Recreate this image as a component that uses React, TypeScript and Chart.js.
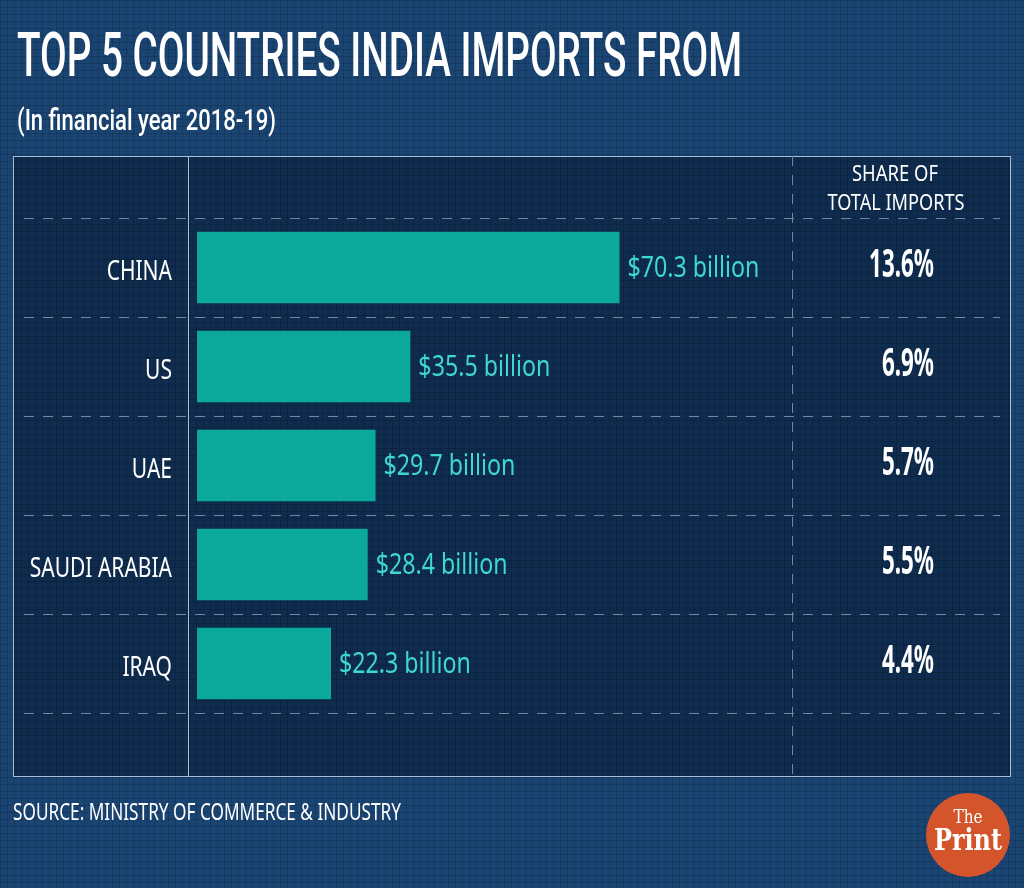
import React, { useEffect, useRef } from "react";
import { Chart, registerables } from "chart.js";

Chart.register(...registerables);

const countries = ["CHINA", "US", "UAE", "SAUDI ARABIA", "IRAQ"];
const importsBn = [70.3, 35.5, 29.7, 28.4, 22.3];
const sharePct = [13.6, 6.9, 5.7, 5.5, 4.4];

const TITLE = "TOP 5 COUNTRIES INDIA IMPORTS FROM";
const SUBTITLE = "(In financial year 2018-19)";
const SHARE_HEAD = ["SHARE OF", "TOTAL IMPORTS"];
const SOURCE = "SOURCE: MINISTRY OF COMMERCE & INDUSTRY";

const W = 1024;
const H = 888;

type Opt = { width?: number; sx?: number };

function txt(
  ctx: CanvasRenderingContext2D,
  text: string,
  x: number,
  y: number,
  font: string,
  color: string,
  align: CanvasTextAlign,
  opt: Opt = {}
) {
  ctx.save();
  ctx.font = font;
  const w = ctx.measureText(text).width;
  const sx = opt.width ? opt.width / w : opt.sx ?? 1;
  ctx.translate(x, y);
  ctx.scale(sx, 1);
  ctx.fillStyle = color;
  ctx.textAlign = align;
  ctx.textBaseline = "alphabetic";
  ctx.fillText(text, 0, 0);
  ctx.restore();
}

const BOX = { l: 13, t: 156, r: 1010, b: 776 };
const DIV1 = 188;
const DIV2 = 792;

const decor = {
  id: "decor",
  beforeDraw(chart: any) {
    const ctx: CanvasRenderingContext2D = chart.ctx;
    ctx.save();
    ctx.fillStyle = "#1a4573";
    ctx.fillRect(0, 0, W, H);
    ctx.fillStyle = "#0f2c4f";
    ctx.fillRect(BOX.l, BOX.t, BOX.r - BOX.l, BOX.b - BOX.t);
    // mosaic texture
    ctx.strokeStyle = "rgba(0,0,0,0.15)";
    ctx.lineWidth = 1;
    ctx.beginPath();
    for (let x = 0.5; x < W; x += 7) {
      ctx.moveTo(x, 0);
      ctx.lineTo(x, H);
    }
    for (let y = 0.5; y < H; y += 7) {
      ctx.moveTo(0, y);
      ctx.lineTo(W, y);
    }
    ctx.stroke();

    ctx.strokeStyle = "#a9bcd3";
    ctx.lineWidth = 1;
    ctx.strokeRect(BOX.l + 0.5, BOX.t + 0.5, BOX.r - BOX.l, BOX.b - BOX.t);
    ctx.beginPath();
    ctx.moveTo(DIV1 + 0.5, BOX.t);
    ctx.lineTo(DIV1 + 0.5, BOX.b);
    ctx.stroke();
    ctx.strokeStyle = "#6e88a8";
    ctx.setLineDash([10, 9]);
    ctx.beginPath();
    ctx.moveTo(DIV2 + 0.5, BOX.t);
    ctx.lineTo(DIV2 + 0.5, BOX.b);
    ctx.stroke();

    const ys = chart.scales.y;
    const n = countries.length;
    const half = (ys.getPixelForValue(1) - ys.getPixelForValue(0)) / 2;
    ctx.beginPath();
    for (let i = 0; i <= n; i++) {
      const y = Math.round(ys.getPixelForValue(Math.min(i, n - 1)) + (i < n ? -half : half)) + 0.5;
      ctx.moveTo(24, y);
      ctx.lineTo(1000, y);
    }
    ctx.stroke();
    ctx.setLineDash([]);
    ctx.restore();

    txt(ctx, TITLE, 17, 76, '500 62px Roboto', "#ffffff", "left", { width: 725 });
    txt(ctx, SUBTITLE, 17, 130, '500 29px Roboto', "#ffffff", "left", { width: 259 });
    txt(ctx, SHARE_HEAD[0], 895, 181, '22px "Noto Sans"', "#ffffff", "center", { width: 86 });
    txt(ctx, SHARE_HEAD[1], 896, 210, '22px "Noto Sans"', "#ffffff", "center", { width: 137 });
    txt(ctx, SOURCE, 13, 820, '24px "Noto Sans"', "#ffffff", "left", { width: 388 });

    ctx.save();
    ctx.fillStyle = "#d4552b";
    ctx.beginPath();
    ctx.arc(968, 835, 42, 0, Math.PI * 2);
    ctx.fill();
    ctx.restore();
    txt(ctx, "The", 968, 823, '18px "DejaVu Serif"', "#ffffff", "center", { sx: 0.85 });
    txt(ctx, "Print", 968, 850, 'bold 30px "DejaVu Serif"', "#ffffff", "center", { width: 68 });
  },
  afterDatasetsDraw(chart: any) {
    const ctx: CanvasRenderingContext2D = chart.ctx;
    const meta = chart.getDatasetMeta(0);
    meta.data.forEach((el: any, i: number) => {
      txt(ctx, countries[i], 172, el.y + 12, '28px "Noto Sans"', "#ffffff", "right", { sx: 0.75 });
      txt(ctx, `$${importsBn[i]} billion`, el.x + 8, el.y + 9, '29px "Noto Sans"', "#3fd8cf", "left", { sx: 0.8 });
      txt(ctx, `${sharePct[i]}%`, 934, el.y + 9, 'bold 40px "Noto Sans"', "#ffffff", "right", { sx: 0.56 });
    });
  },
};

export default function App() {
  const ref = useRef<HTMLCanvasElement>(null);
  useEffect(() => {
    if (!ref.current) return;
    const chart = new Chart(ref.current, {
      type: "bar",
      data: {
        labels: countries,
        datasets: [
          {
            data: importsBn,
            backgroundColor: "#0aa99b",
            borderWidth: 0,
            barPercentage: 0.72,
            categoryPercentage: 1,
          },
        ],
      },
      options: {
        indexAxis: "y",
        responsive: false,
        animation: false,
        devicePixelRatio: 1,
        layout: { padding: { left: 197, right: 226, top: 218, bottom: 175 } },
        scales: {
          x: { display: false, min: 0, max: 100 },
          y: { display: false },
        },
        plugins: { legend: { display: false }, tooltip: { enabled: false } },
      },
      plugins: [decor],
    });
    return () => chart.destroy();
  }, []);
  return (
    <div style={{ position: "absolute", left: 0, top: 0, width: W, height: H }}>
      <canvas ref={ref} width={W} height={H} style={{ display: "block", width: W, height: H }} />
    </div>
  );
}
